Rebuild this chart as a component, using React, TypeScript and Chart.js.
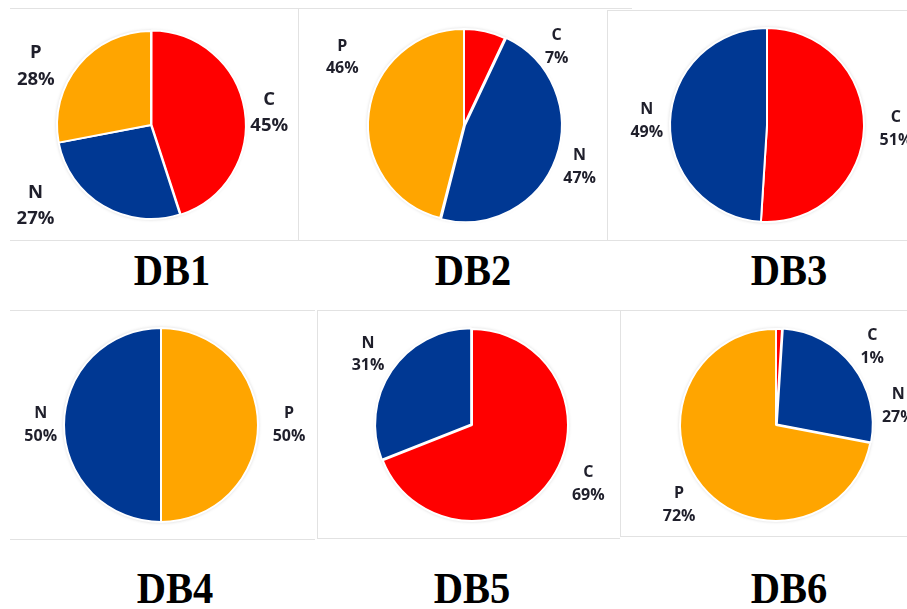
import { useEffect, useRef } from "react";
import { Chart, registerables } from "chart.js";

Chart.register(...registerables);

// Share of C / N / P in each database, in percent
const db1Categories = ["C", "N", "P"];
const db1Values = [45, 27, 28];
const db2Categories = ["C", "N", "P"];
const db2Values = [7, 47, 46];
const db3Categories = ["C", "N"];
const db3Values = [51, 49];
const db4Categories = ["P", "N"];
const db4Values = [50, 50];
const db5Categories = ["C", "N"];
const db5Values = [69, 31];
const db6Categories = ["C", "N", "P"];
const db6Values = [1, 27, 72];

const titles = ["DB1", "DB2", "DB3", "DB4", "DB5", "DB6"];

const sliceColors: Record<string, string> = {
  C: "#FF0000",
  N: "#003893",
  P: "#FFA500",
};

type LabelPlace = [number | null, number]; // [angle in degrees clockwise from top, or null for slice middle; distance in radii]

type Panel = {
  categories: string[];
  values: number[];
  box: [number, number, number, number];
  center: [number, number];
  radius: number;
  fontSize: number;
  explode: number[];
  place: LabelPlace[];
  titleX: number;
  titleTop: number;
};

const panels: Panel[] = [
  {
    categories: db1Categories,
    values: db1Values,
    box: [10, 0, 288, 245],
    center: [151, 125],
    radius: 94,
    fontSize: 18.5,
    explode: [2, 0, 0],
    place: [[84, 1.265], [235, 1.5], [297, 1.375]],
    titleX: 172,
    titleTop: 248,
  },
  {
    categories: db2Categories,
    values: db2Values,
    box: [298, 0, 309, 245],
    center: [464, 125],
    radius: 96,
    fontSize: 16,
    explode: [0, 4, 0],
    place: [[50, 1.26], [null, 1.28], [299, 1.45]],
    titleX: 473,
    titleTop: 248,
  },
  {
    categories: db3Categories,
    values: db3Values,
    box: [607, 0, 300, 245],
    center: [767, 125],
    radius: 97,
    fontSize: 16,
    explode: [0, 0],
    place: [[null, 1.33], [null, 1.24]],
    titleX: 789,
    titleTop: 248,
  },
  {
    categories: db4Categories,
    values: db4Values,
    box: [10, 300, 307, 245],
    center: [161, 425],
    radius: 97,
    fontSize: 16,
    explode: [0, 0],
    place: [[null, 1.32], [null, 1.24]],
    titleX: 175,
    titleTop: 566,
  },
  {
    categories: db5Categories,
    values: db5Values,
    box: [317, 300, 303, 245],
    center: [472, 425],
    radius: 96,
    fontSize: 16,
    explode: [0, 4],
    place: [[117, 1.36], [null, 1.31]],
    titleX: 472,
    titleTop: 566,
  },
  {
    categories: db6Categories,
    values: db6Values,
    box: [620, 300, 287, 245],
    center: [776, 425],
    radius: 96,
    fontSize: 16,
    explode: [0, 4, 0],
    place: [[51, 1.29], [81, 1.29], [null, 1.31]],
    titleX: 789,
    titleTop: 566,
  },
];

// Soft halo round the whole pie, drawn underneath the slices
const pieShadow = {
  id: "pieShadow",
  beforeDatasetsDraw(chart: any) {
    const arc = chart.getDatasetMeta(0).data[0];
    if (!arc) return;
    const { x, y, outerRadius } = arc.getProps(["x", "y", "outerRadius"], true);
    const ctx = chart.ctx;
    ctx.save();
    ctx.shadowColor = "rgba(0,0,0,0.4)";
    ctx.shadowBlur = 4;
    ctx.beginPath();
    ctx.arc(x, y, outerRadius - 1, 0, Math.PI * 2);
    ctx.fillStyle = "#ffffff";
    ctx.fill();
    ctx.restore();
  },
};

// Two-line "name / value%" labels outside each slice
const sliceLabels = {
  id: "sliceLabels",
  afterDatasetsDraw(chart: any, _args: any, opts: any) {
    const ctx = chart.ctx;
    const meta = chart.getDatasetMeta(0);
    const ds = chart.data.datasets[0];
    const labels = chart.data.labels as string[];
    meta.data.forEach((arc: any, i: number) => {
      const { x, y, startAngle, endAngle, outerRadius } = arc.getProps(
        ["x", "y", "startAngle", "endAngle", "outerRadius"],
        true
      );
      const [deg, k] = opts.place[i] as LabelPlace;
      const ang = deg == null ? (startAngle + endAngle) / 2 : ((deg - 90) * Math.PI) / 180;
      const lx = x + Math.cos(ang) * outerRadius * k;
      const ly = y + Math.sin(ang) * outerRadius * k;
      const fs = opts.fontSize as number;
      const lh = fs * 1.42;
      ctx.save();
      ctx.font = `bold ${fs}px "Open Sans"`;
      ctx.fillStyle = "#1f1f2b";
      ctx.textAlign = "center";
      ctx.textBaseline = "middle";
      ctx.fillText(labels[i], lx, ly - lh / 2);
      ctx.fillText(`${ds.data[i]}%`, lx, ly + lh / 2);
      ctx.restore();
    });
  },
};

function PiePanel({ panel }: { panel: Panel }) {
  const ref = useRef<HTMLCanvasElement | null>(null);
  const [bx, by, bw, bh] = panel.box;

  useEffect(() => {
    if (!ref.current) return;
    const [cx, cy] = panel.center;
    const s = panel.radius + 6;
    const relX = cx - bx;
    const relY = cy - by;
    const chart = new Chart(ref.current, {
      type: "pie",
      data: {
        labels: panel.categories,
        datasets: [
          {
            data: panel.values,
            backgroundColor: panel.categories.map((c) => sliceColors[c]),
            borderColor: "#ffffff",
            borderWidth: 2,
            offset: panel.explode,
            hoverOffset: 0,
          },
        ],
      },
      options: {
        responsive: false,
        animation: false,
        radius: panel.radius,
        layout: {
          padding: {
            left: relX - s,
            right: bw - relX - s,
            top: relY - s,
            bottom: bh - relY - s,
          },
        },
        plugins: {
          legend: { display: false },
          tooltip: { enabled: false },
          sliceLabels: { place: panel.place, fontSize: panel.fontSize },
        } as any,
      } as any,
      plugins: [pieShadow, sliceLabels],
    });
    return () => chart.destroy();
  }, [panel]);

  return (
    <canvas
      ref={ref}
      width={bw}
      height={bh}
      style={{ position: "absolute", left: bx, top: by, width: bw, height: bh }}
    />
  );
}

const line = "1px solid #e2e2e2";

// Light frames round each pie
const frames: React.CSSProperties[] = [
  { left: 10, top: 8, width: 289, height: 233, borderTop: line, borderRight: line, borderBottom: line },
  { left: 298, top: 8, width: 334, height: 233, borderTop: line, borderBottom: line },
  { left: 607, top: 10, width: 310, height: 231, borderTop: line, borderLeft: line, borderBottom: line },
  { left: 10, top: 310, width: 305, height: 230, borderTop: line, borderBottom: line },
  { left: 317, top: 310, width: 303, height: 229, borderTop: line, borderLeft: line, borderBottom: line },
  { left: 620, top: 310, width: 297, height: 227, borderTop: line, borderLeft: line, borderBottom: line },
];

export default function App() {
  return (
    <div
      style={{
        position: "fixed",
        left: 0,
        top: 0,
        width: 907,
        height: 609,
        background: "#ffffff",
        overflow: "hidden",
      }}
    >
      {frames.map((f, i) => (
        <div key={`f${i}`} style={{ position: "absolute", boxSizing: "border-box", ...f }} />
      ))}
      {panels.map((p, i) => (
        <PiePanel key={`p${i}`} panel={p} />
      ))}
      {panels.map((p, i) => (
        <div
          key={`t${i}`}
          style={{
            position: "absolute",
            left: p.titleX - 100,
            top: p.titleTop,
            width: 200,
            textAlign: "center",
            fontFamily: '"Liberation Serif", "Times New Roman", serif',
            fontWeight: "bold",
            fontSize: 45,
            lineHeight: "45px",
            color: "#000000",
            transform: "scaleX(0.9)",
          }}
        >
          {titles[i]}
        </div>
      ))}
    </div>
  );
}
